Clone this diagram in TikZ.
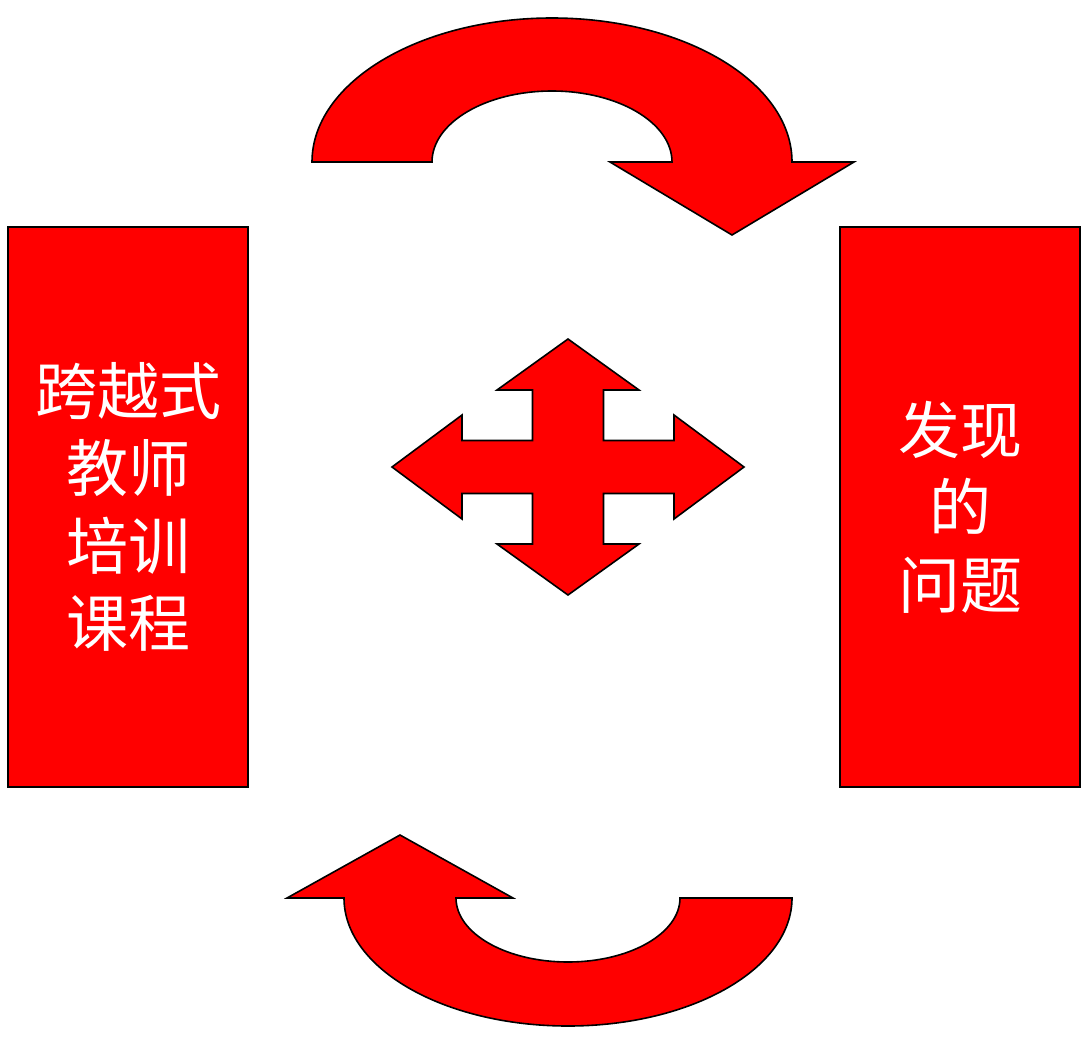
\documentclass[tikz,border=0pt]{standalone}
\usepackage{fontspec}
\newfontfamily\cjk{Noto Sans CJK SC}
\begin{document}
\begin{tikzpicture}[x=1pt,y=-1pt,
  redshape/.style={fill=red, draw=black, line width=1.6pt, line join=miter},
  textbox/.style={redshape, minimum width=240pt, minimum height=560pt, inner sep=0pt,
    align=center, text=white, font=\cjk\fontsize{62}{77.5}\selectfont}]
\useasboundingbox (0,0) rectangle (1087,1039);
% side boxes
\node[textbox] (course) at (128,507) {跨越式\\教师\\培训\\课程};
\node[textbox] (problem) at (960,507) {发现\\的\\问题};
% top curved arrow
\draw[redshape] (312,162) arc[start angle=180, end angle=0, x radius=240pt, y radius=144pt]
  -- (854,162) -- (732,235) -- (610,162) -- (672,162)
  arc[start angle=0, end angle=180, x radius=120pt, y radius=71pt] -- cycle;
% bottom curved arrow
\draw[redshape] (792,898) arc[start angle=0, end angle=-180, x radius=224pt, y radius=128pt]
  -- (287,898) -- (400,835) -- (513,898) -- (456,898)
  arc[start angle=180, end angle=360, x radius=112pt, y radius=64pt] -- cycle;
% centre four-way arrow
\draw[redshape] (568,339) -- (639,390) -- (603.5,390) -- (603.5,440.5) -- (674,440.5) -- (674,415)
  -- (744,467) -- (674,519) -- (674,493.5) -- (603.5,493.5) -- (603.5,544) -- (639,544)
  -- (568,595) -- (497,544) -- (532.5,544) -- (532.5,493.5) -- (462,493.5) -- (462,519)
  -- (392,467) -- (462,415) -- (462,440.5) -- (532.5,440.5) -- (532.5,390) -- (497,390) -- cycle;
\end{tikzpicture}
\end{document}
